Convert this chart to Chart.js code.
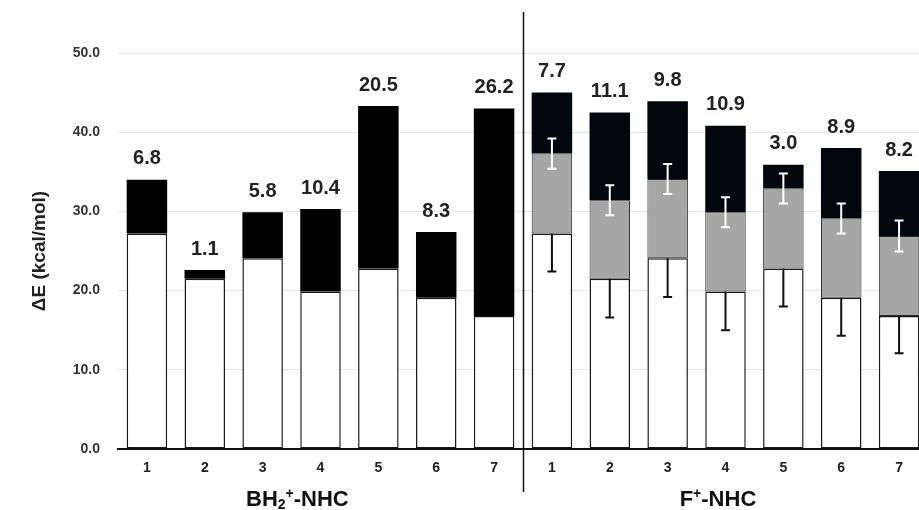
<!DOCTYPE html>
<html>
<head>
<meta charset="utf-8">
<script src="https://cdn.jsdelivr.net/npm/chart.js@4.4.1/dist/chart.umd.min.js"></script>
<style>
    html, body { margin: 0; padding: 0; overflow: hidden; background: #fff; }
    #wrap { width: 940px; height: 510px; }
</style>
</head>
<body>
<div id="wrap"><canvas id="myChart" width="940" height="510"></canvas></div>
<script>
// categories (two groups of seven)
const labels = ['1', '2', '3', '4', '5', '6', '7', '1', '2', '3', '4', '5', '6', '7'];

// stacked segments, kcal/mol
const baseVals = [27.2, 21.5, 24.1, 19.9, 22.8, 19.1, 16.8, 27.2, 21.5, 24.1, 19.9, 22.8, 19.1, 16.8];
const midVals = [null, null, null, null, null, null, null, 10.1, 9.9, 10.0, 10.0, 10.1, 10.0, 10.1];
const topVals = [6.8, 1.1, 5.8, 10.4, 20.5, 8.3, 26.2, 7.7, 11.1, 9.8, 10.9, 3.0, 8.9, 8.2];

// error bars (only on the F+ group)
const baseErr = [null, null, null, null, null, null, null, 4.8, 4.9, 4.9, 4.9, 4.8, 4.8, 4.7];
const midErr = [null, null, null, null, null, null, null, 1.9, 1.9, 1.9, 1.9, 1.9, 1.9, 1.95];

const FONT = '"Liberation Sans", Arial, Helvetica, sans-serif';
const topColors = labels.map((l, i) => i < 7 ? '#000000' : '#02070e');

function whisker(ctx, px, yHi, yLo, color, capTop) {
    const cap = 4.5;
    ctx.strokeStyle = color;
    ctx.beginPath();
    ctx.moveTo(px, yHi);
    ctx.lineTo(px, yLo);
    ctx.moveTo(px - cap, yLo);
    ctx.lineTo(px + cap, yLo);
    if (capTop) {
        ctx.moveTo(px - cap, yHi);
        ctx.lineTo(px + cap, yHi);
    }
    ctx.stroke();
}

// draws text pieces with sub/superscripts, centred on cx
function drawRich(ctx, parts, cx, baseY) {
    let total = 0;
    parts.forEach(p => {
        ctx.font = 'bold ' + p.size + 'px ' + FONT;
        p.w = ctx.measureText(p.t).width;
        total += p.w;
    });
    let x = cx - total / 2;
    parts.forEach(p => {
        ctx.font = 'bold ' + p.size + 'px ' + FONT;
        ctx.fillText(p.t, x, baseY + (p.dy || 0));
        x += p.w;
    });
}

const extras = {
    id: 'extras',
    afterDatasetsDraw(chart) {
        const ctx = chart.ctx;
        const x = chart.scales.x;
        const y = chart.scales.y;
        const area = chart.chartArea;

        ctx.save();
        ctx.lineWidth = 2;
        labels.forEach((l, i) => {
            if (baseErr[i] == null) return;
            const px = x.getPixelForValue(i);
            // upper half of this one is hidden behind the grey block
            whisker(ctx, px, y.getPixelForValue(baseVals[i]), y.getPixelForValue(baseVals[i] - baseErr[i]), '#111', false);
            const m = baseVals[i] + midVals[i];
            whisker(ctx, px, y.getPixelForValue(m + midErr[i]), y.getPixelForValue(m - midErr[i]), '#ffffff', true);
        });

        // value of the top segment above each bar
        ctx.fillStyle = '#222';
        ctx.textAlign = 'center';
        ctx.textBaseline = 'bottom';
        ctx.font = 'bold 20px ' + FONT;
        labels.forEach((l, i) => {
            const total = baseVals[i] + (midVals[i] || 0) + topVals[i];
            ctx.fillText(topVals[i].toFixed(1), x.getPixelForValue(i), y.getPixelForValue(total) - 11);
        });

        // group divider
        const dx = Math.round(x.getPixelForValue(6.5)) + 0.5;
        ctx.strokeStyle = '#111';
        ctx.lineWidth = 1.5;
        ctx.beginPath();
        ctx.moveTo(dx, area.top - 41);
        ctx.lineTo(dx, area.bottom + 43);
        ctx.stroke();

        // group names
        ctx.textAlign = 'left';
        ctx.textBaseline = 'alphabetic';
        ctx.fillStyle = '#111';
        const gy = area.bottom + 57;
        drawRich(ctx, [
            { t: 'BH', size: 22 },
            { t: '2', size: 14, dy: 3 },
            { t: '+', size: 14, dy: -8 },
            { t: '-NHC', size: 22 }
        ], x.getPixelForValue(2.6), gy);
        drawRich(ctx, [
            { t: 'F', size: 22 },
            { t: '+', size: 14, dy: -8 },
            { t: '-NHC', size: 22 }
        ], x.getPixelForValue(9.87), gy);
        ctx.restore();
    }
};

const ctx = document.getElementById('myChart').getContext('2d');
const chart = new Chart(ctx, {
    type: 'bar',
    data: {
        labels: labels,
        datasets: [
            {
                data: baseVals,
                backgroundColor: '#ffffff',
                borderColor: '#1a1a1a',
                borderWidth: 1.5,
                borderSkipped: false
            },
            {
                data: midVals,
                backgroundColor: '#a6a6a6',
                borderColor: '#2a2a2a',
                borderWidth: 1,
                borderSkipped: false
            },
            {
                data: topVals,
                backgroundColor: topColors,
                borderWidth: 0
            }
        ]
    },
    options: {
        responsive: false,
        animation: false,
        barPercentage: 0.7,
        categoryPercentage: 1.0,
        layout: { padding: { left: 24, right: 12, top: 53, bottom: 0 } },
        plugins: {
            legend: { display: false },
            tooltip: { enabled: false }
        },
        scales: {
            x: {
                stacked: true,
                grid: { display: false },
                border: { display: true, color: '#111', width: 2 },
                ticks: {
                    color: '#222',
                    padding: 3,
                    maxRotation: 0,
                    autoSkip: false,
                    font: { family: FONT, size: 14, weight: 'bold' }
                },
                afterFit(s) { s.height = 61; }
            },
            y: {
                stacked: true,
                min: 0,
                max: 50,
                grid: { color: '#e6e6e6', drawTicks: false },
                border: { display: false },
                ticks: {
                    stepSize: 10,
                    color: '#333',
                    padding: 18,
                    font: { family: FONT, size: 14, weight: 'bold' },
                    callback: v => v.toFixed(1)
                },
                title: {
                    display: true,
                    text: 'ΔE (kcal/mol)',
                    color: '#222',
                    font: { family: FONT, size: 19, weight: 'bold' }
                },
                afterFit(s) { s.width = 94; }
            }
        }
    },
    plugins: [extras]
});
</script>
</body>
</html>
